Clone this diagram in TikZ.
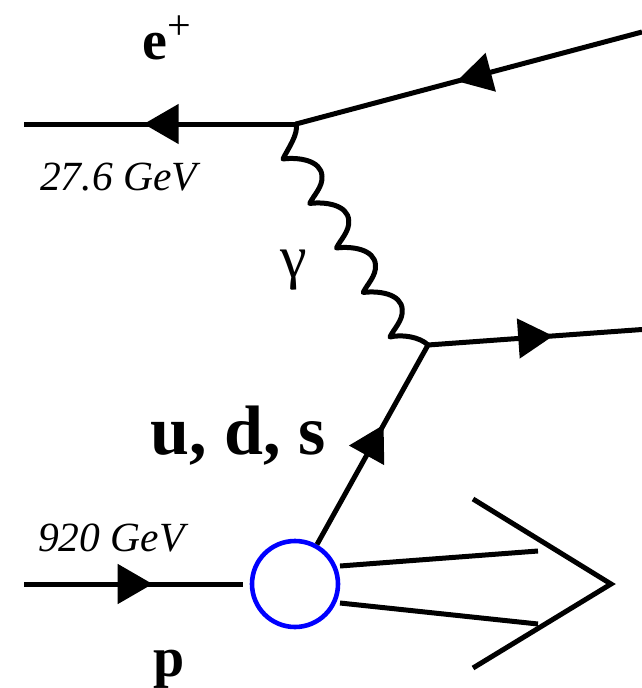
\documentclass[tikz,border=0pt]{standalone}
\usepackage{fontspec}
\setmainfont{Liberation Serif}[ItalicFont={Liberation Serif Italic},BoldFont={Liberation Serif Bold}]
\usetikzlibrary{arrows.meta,decorations.markings}
\definecolor{blobblue}{RGB}{0,0,255}
\begin{document}
\begin{tikzpicture}[x=1pt,y=-1pt,
  fermion/.style={line width=5pt},
  photon/.style={line width=5pt, line join=round, line cap=round},
  blob/.style={circle, draw=blobblue, line width=4.6pt, minimum size=86pt, inner sep=0pt},
  midarrow/.style={postaction={decorate},decoration={markings,
     mark=at position #1 with {\arrow{Triangle[length=35pt,width=39pt]}}}},
  lbl/.style={inner sep=0pt, anchor=base west}
]
\useasboundingbox (0,0) rectangle (642,688);

% vertices and free ends
\coordinate (ein) at (642,32);
\coordinate (v1) at (296,124);
\coordinate (eout) at (24,124);
\coordinate (v2) at (428,345);
\coordinate (qout) at (642,329.5);
\coordinate (pin) at (24,584);
\node[blob] (blob) at (295,584) {};
\coordinate (h1s) at (340,566);
\coordinate (h1e) at (538,551);
\coordinate (h2s) at (340,603);
\coordinate (h2e) at (538,624);
\coordinate (c1) at (473,499);
\coordinate (ctip) at (611,584);
\coordinate (c2) at (473,668);

% positron
\draw[fermion, midarrow=0.535] (ein) -- (v1);
\draw[fermion, midarrow=0.56] (v1) -- (eout);

% photon
\draw[photon] (v1) .. controls (299,134) and (287,150) .. (283,159)
  \foreach \i in {0,1,2,3} {
    .. controls ({283+26.75*\i+15},{159+44.5*\i-2}) and ({283+26.75*\i+38},{159+44.5*\i+1}) .. ({283+26.75*\i+39},{159+44.5*\i+17})
    .. controls ({283+26.75*\i+40},{159+44.5*\i+28}) and ({283+26.75*\i+30},{159+44.5*\i+37}) .. ({283+26.75*(\i+1)},{159+44.5*(\i+1)})
  }
  .. controls (402,334) and (420,337) .. (v2);

% quark
\draw[fermion, midarrow=0.60] (blob) -- (v2);
\draw[fermion, midarrow=0.585] (v2) -- (qout);

% proton
\draw[fermion, shorten >=7pt, midarrow=0.57] (pin) -- (blob.west);

% hadrons
\draw[fermion] (h1s) -- (h1e);
\draw[fermion] (h2s) -- (h2e);
\draw[fermion] (c1) -- (ctip) -- (c2);

% labels
\node[lbl] (le) at (142,59) {\fontsize{56}{56}\selectfont\bfseries e\raisebox{20pt}{\fontsize{42}{42}\selectfont\mdseries +}};
\node[lbl] (le27) at (40,190) {\fontsize{41.5}{41.5}\selectfont\itshape 27.6 GeV};
\node[lbl] (lg) at (280,277) {\fontsize{60}{60}\selectfont γ};
\node[lbl] (luds) at (150,454) {\fontsize{70}{70}\selectfont\bfseries u, d, s};
\node[lbl] (l920) at (38,551) {\fontsize{41.5}{41.5}\selectfont\itshape 920 GeV};
\node[lbl] (lp) at (153,676) {\fontsize{56}{56}\selectfont\bfseries p};
\end{tikzpicture}
\end{document}
